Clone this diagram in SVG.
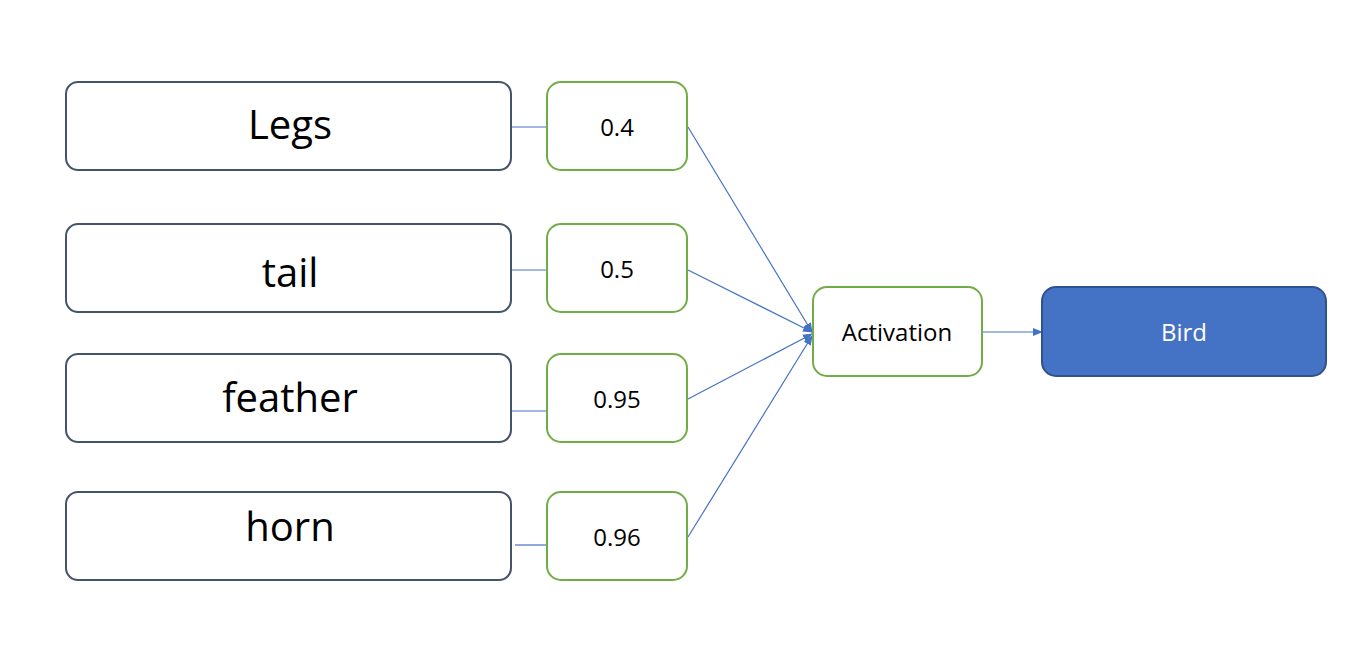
<svg xmlns="http://www.w3.org/2000/svg" width="1364" height="671" viewBox="0 0 1364 671">
<style>
.in{fill:#fff;stroke:#44546A;stroke-width:2}
.w{fill:#fff;stroke:#70AD47;stroke-width:2}
.big{font-family:"Open Sans","Liberation Sans",sans-serif;font-size:40px;fill:#000;text-anchor:middle}
.sm{font-family:"Open Sans","Liberation Sans",sans-serif;font-size:24px;fill:#000;text-anchor:middle}
.c{stroke:#4472C4;stroke-width:1.2;fill:none}
</style>
<defs>
<marker id="ah" markerWidth="10" markerHeight="8" refX="9" refY="4" orient="auto" markerUnits="userSpaceOnUse">
<path d="M0,0 L10,4 L0,8 Z" fill="#4472C4"/>
</marker>
</defs>
<rect width="1364" height="671" fill="#fff"/>
<g id="connectors">
<line class="c" x1="511" y1="127" x2="547" y2="127"/>
<line class="c" x1="511" y1="270" x2="547" y2="270"/>
<line class="c" x1="511" y1="411" x2="547" y2="411"/>
<line class="c" x1="515" y1="545" x2="547" y2="545"/>
<line class="c" x1="688" y1="127" x2="812" y2="332" marker-end="url(#ah)"/>
<line class="c" x1="688" y1="270" x2="812" y2="332" marker-end="url(#ah)"/>
<line class="c" x1="688" y1="399" x2="812" y2="334" marker-end="url(#ah)"/>
<line class="c" x1="688" y1="537" x2="812" y2="336" marker-end="url(#ah)"/>
<line class="c" x1="982" y1="332" x2="1042" y2="332" marker-end="url(#ah)"/>
</g>
<g id="legs"><rect class="in" x="66" y="82" width="445" height="88" rx="12"/><text class="big" x="290" y="139">Legs</text></g>
<g id="tail"><rect class="in" x="66" y="224" width="445" height="88" rx="12"/><text class="big" x="290" y="287">tail</text></g>
<g id="feather"><rect class="in" x="66" y="354" width="445" height="88" rx="12"/><text class="big" x="290" y="412">feather</text></g>
<g id="horn"><rect class="in" x="66" y="492" width="445" height="88" rx="12"/><text class="big" x="290" y="541">horn</text></g>
<g id="w1"><rect class="w" x="547" y="82" width="140" height="88" rx="14"/><text class="sm" x="617" y="136">0.4</text></g>
<g id="w2"><rect class="w" x="547" y="224" width="140" height="88" rx="14"/><text class="sm" x="617" y="278">0.5</text></g>
<g id="w3"><rect class="w" x="547" y="354" width="140" height="88" rx="14"/><text class="sm" x="617" y="408">0.95</text></g>
<g id="w4"><rect class="w" x="547" y="492" width="140" height="88" rx="14"/><text class="sm" x="617" y="546">0.96</text></g>
<g id="activation"><rect class="w" x="813" y="287" width="169" height="89" rx="14"/><text class="sm" x="897" y="341">Activation</text></g>
<g id="bird"><rect x="1042" y="287" width="284" height="89" rx="14" fill="#4472C4" stroke="#2F528F" stroke-width="2"/><text class="sm" x="1184" y="341" style="fill:#fff">Bird</text></g>
</svg>
